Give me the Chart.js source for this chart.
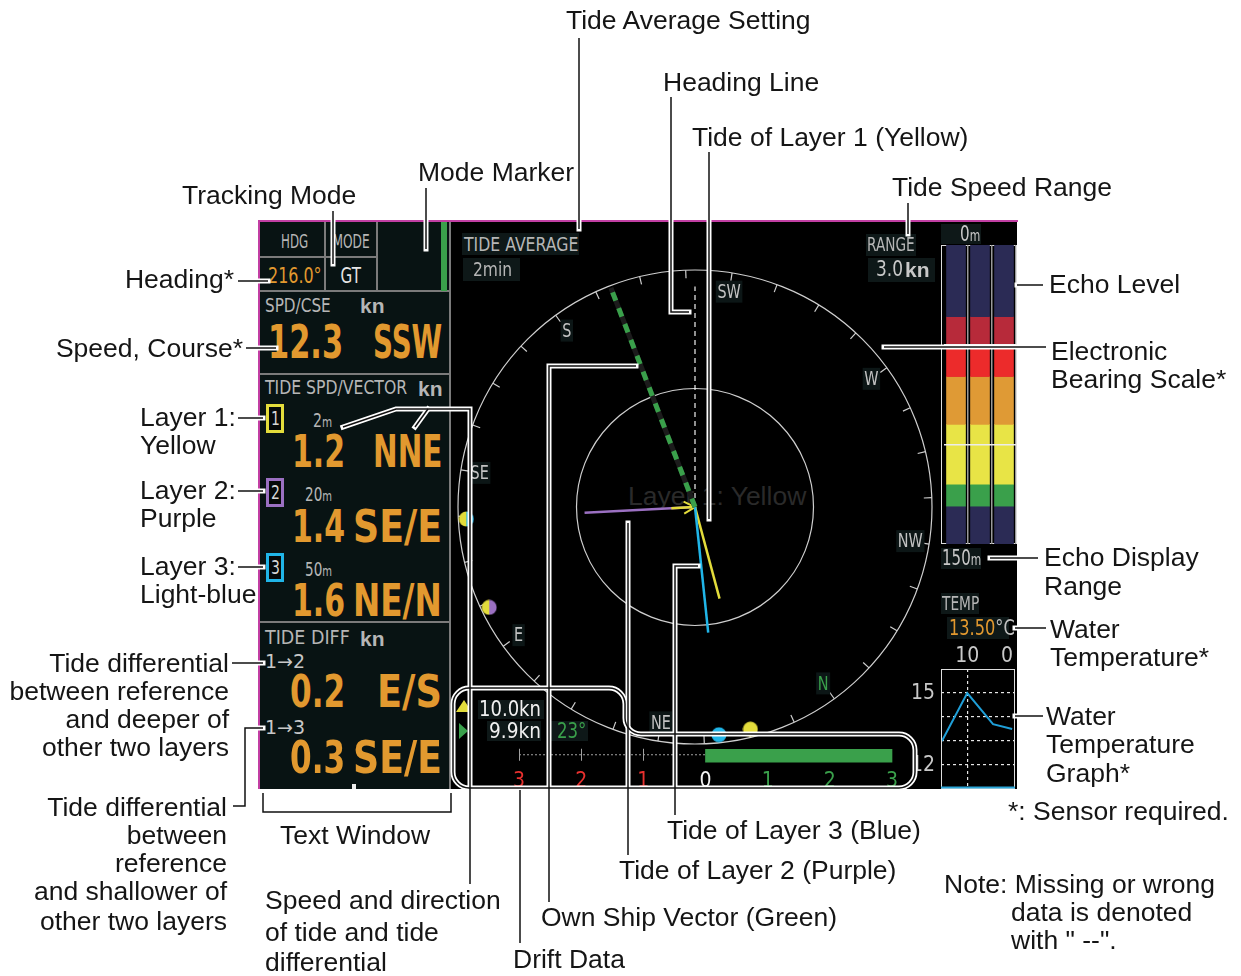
<!DOCTYPE html>
<html>
<head>
<meta charset="utf-8">
<script src="https://cdn.jsdelivr.net/npm/chart.js@4.4.0/dist/chart.umd.min.js"></script>
<style>
html, body { margin: 0; padding: 0; background: #fff; }
#stage { position: relative; width: 1241px; height: 976px; overflow: hidden; font-family: "Liberation Sans", Arial, sans-serif; }
.abs { position: absolute; }
.lcd { position: absolute; white-space: nowrap; line-height: 1; font-family: "Liberation Sans Narrow", "DejaVu Sans Condensed", "Arial Narrow", sans-serif; }
.note { position: absolute; font-size: 26.5px; line-height: 30px; white-space: nowrap; color: #151515; }
canvas { position: absolute; }
</style>
</head>
<body>
<div id="stage"></div>
<script>
const heading = 216.0;
const trackingMode = 'GT';
const ownSpeed = 12.3;
const ownCourseName = 'SSW';
const ownVectorBearing = 195;
const tideAverage = '2min';
const tideRange = 3.0;

const layerIds = ['1', '2', '3'];
const layerDepths = ['2', '20', '50'];
const layerSpeeds = [1.2, 1.4, 1.6];
const layerDirNames = ['NNE', 'SE/E', 'NE/N'];
const layerBearings = [21, 123, 30];
const layerColors = ['#e3dc3b', '#9b70c2', '#20b5e8'];

const diffLabels = ['1→2', '1→3'];
const diffSpeeds = [0.2, 0.3];
const diffDirNames = ['E/S', 'SE/E'];

const compassNames = ['N', 'NE', 'E', 'SE', 'S', 'SW', 'W', 'NW'];
const compassBearings = [0, 45, 90, 135, 180, 225, 270, 315];
const compassTickStep = 11.25;

const markerBearings = [123, 100, 30, 22];
const markerLeft = ['#e3dc3b', '#e3dc3b', '#20b5e8', '#e3dc3b'];
const markerRight = ['#20b5e8', '#9b70c2', '#20b5e8', '#e3dc3b'];

const echoColumns = ['1', '2', '3'];
const echoBandDepth = [36, 14, 16, 24, 30, 11, 19];
const echoBandColors = ['#2b2b55', '#b72a3a', '#ec2b2b', '#df9a35', '#e8e446', '#3aa04b', '#2b2b55'];
const echoGrid = [50, 100];
const echoRangeLabels = ['0m', '150m'];

const waterTemp = '13.50';
const tempMinutes = [15.3, 10, 4.6, 0.6];
const tempValues = [13.0, 15.0, 13.7, 13.5];
const tempXTicks = [10, 0];
const tempYTicks = [15, 12];
const tempGridX = [10];
const tempGridY = [12, 13, 14, 15];

const driftSpeeds = ['10.0', '9.9'];
const driftAngle = '23°';
const driftValue = 3;
const driftTicks = [-3, -2, -1, 0, 1, 2, 3];

// ---- callouts ----
const notes = [
  ['Tide Average Setting', 566, 20], ['Heading Line', 663, 82], ['Tide of Layer 1 (Yellow)', 692, 137],
  ['Mode Marker', 418, 172], ['Tide Speed Range', 892, 187], ['Tracking Mode', 182, 195],
  ['Heading*', 234, 279, 'r'], ['Echo Level', 1049, 284], ['Speed, Course*', 243, 348, 'r'],
  ['Electronic', 1051, 351], ['Bearing Scale*', 1051, 379],
  ['Layer 1:', 140, 417], ['Yellow', 140, 445], ['Layer 2:', 140, 490], ['Purple', 140, 518],
  ['Layer 3:', 140, 566], ['Light-blue', 140, 594],
  ['Echo Display', 1044, 557], ['Range', 1044, 586], ['Water', 1050, 629], ['Temperature*', 1050, 657],
  ['Tide differential', 229, 663, 'r'], ['between reference', 229, 691, 'r'], ['and deeper of', 229, 719, 'r'], ['other two layers', 229, 747, 'r'],
  ['Water', 1046, 716], ['Temperature', 1046, 744], ['Graph*', 1046, 773],
  ['*: Sensor required.', 1008, 811],
  ['Tide differential', 227, 807, 'r'], ['between', 227, 835, 'r'], ['reference', 227, 863, 'r'], ['and shallower of', 227, 891, 'r'], ['other two layers', 227, 921, 'r'],
  ['Text Window', 280, 835], ['Tide of Layer 3 (Blue)', 667, 830], ['Tide of Layer 2 (Purple)', 619, 870],
  ['Note: Missing or wrong', 944, 884], ['data is denoted', 1011, 912], ['with " --".', 1011, 940],
  ['Speed and direction', 265, 900], ['of tide and tide', 265, 932], ['differential', 265, 962],
  ['Own Ship Vector (Green)', 541, 917], ['Drift Data', 513, 959]
];
const leaders = [
  [[579, 38], [579, 229]], [[671, 97], [671, 312], [689, 312]], [[709, 152], [709, 519]],
  [[426, 188], [426, 249]], [[908, 203], [908, 234]], [[333, 211], [333, 264]],
  [[238, 281], [268, 281]], [[1017, 285], [1043, 285]], [[246, 348], [276, 348]],
  [[884, 347], [1046, 347]], [[238, 418], [263, 418]], [[238, 491], [263, 491]], [[238, 567], [263, 567]],
  [[990, 558], [1038, 558]], [[1015, 628], [1046, 628]], [[232, 663], [263, 663]],
  [[233, 806], [245, 806], [245, 728], [263, 728]], [[1015, 716], [1043, 716]],
  [[263, 793], [263, 812], [451, 812], [451, 793]],
  [[470, 884], [470, 409], [396, 409], [343, 427]], [[428, 409], [415, 427]],
  [[549, 902], [549, 366], [636, 366]], [[520, 943], [520, 790]],
  [[628, 855], [628, 523]], [[675, 815], [675, 566], [698, 566]]
];
const driftBox = [[453, 688], [625, 688], [625, 734], [915, 734], [915, 788], [453, 788]];

const LCD = '"Liberation Sans Narrow", "DejaVu Sans Condensed", "Arial Narrow", sans-serif';
const ORANGE = '#e2992f';
const GRAY = '#b6b6b6';
Chart.defaults.font.family = LCD;

const stage = document.getElementById('stage');

const rect = (x, y, w, h, bg, extra = {}) => {
  const d = document.createElement('div');
  d.className = 'abs';
  Object.assign(d.style, {left: x + 'px', top: y + 'px', width: w + 'px', height: h + 'px', background: bg}, extra);
  stage.appendChild(d);
  return d;
};

// LCD text squeezed to the width it has on the display
// weight: 'kn' = bold sans unit, 'b' = bold lcd
const lcd = (html, x, yc, size, color, align, width, weight) => {
  const d = document.createElement('div');
  d.className = 'lcd';
  d.innerHTML = html;
  d.style.fontSize = size + 'px';
  d.style.color = color;
  d.style.top = (yc - 0.49 * size) + 'px';
  if (weight === 'kn') d.style.fontFamily = '"Liberation Sans", Arial, sans-serif';
  if (weight) d.style.fontWeight = 'bold';
  stage.appendChild(d);
  const s = width ? width / d.offsetWidth : 1;
  if (align === 'r') {
    d.style.right = (1241 - x) + 'px';
    d.style.transformOrigin = 'right center';
  } else if (align === 'c') {
    d.style.left = (x - d.offsetWidth / 2) + 'px';
    d.style.transformOrigin = 'center center';
  } else {
    d.style.left = x + 'px';
    d.style.transformOrigin = 'left center';
  }
  d.style.transform = `scaleX(${s})`;
  return d;
};

const addCanvas = (x, y, w, h) => {
  const c = document.createElement('canvas');
  c.width = w; c.height = h;
  c.style.left = x + 'px'; c.style.top = y + 'px';
  stage.appendChild(c);
  return c;
};

// ---- display background ----
rect(258, 221, 192, 568, '#081313');
rect(450, 221, 567, 568, '#000');
rect(258, 220, 760, 2, '#c23fa3');
rect(258, 220, 2, 569, '#c23fa3');
const LINE = '#7b7b7b';
rect(260, 256, 117, 2, LINE); rect(324, 222, 2, 69, LINE); rect(376, 222, 2, 69, LINE);
rect(260, 290, 190, 2, LINE); rect(260, 373, 190, 2, LINE); rect(260, 621, 190, 2, LINE);
rect(449, 222, 2, 567, LINE);
rect(441, 222, 6, 69, '#3aa04b');
rect(352, 784, 4, 5, '#eee');

// ghost text left in the original artwork
const ghost = document.createElement('div');
ghost.className = 'note';
ghost.textContent = 'Layer 1: Yellow';
ghost.style.left = '628px'; ghost.style.top = '481px'; ghost.style.color = '#2a2a2a';
stage.appendChild(ghost);

// ---- compass / tide vectors ----
const cBox = {left: 450, top: 222, w: 488, h: 568, cx: 695, cy: 507, r: 237};
const kPx = cBox.r / tideRange;
const rad = b => (b - heading) * Math.PI / 180;
const vec = (s, b) => ({x: s * Math.sin(rad(b)), y: s * Math.cos(rad(b))});
const origin = {x: 0, y: 0};

const halfDot = (l, r) => {
  const c = document.createElement('canvas');
  c.width = 16; c.height = 16;
  const g = c.getContext('2d');
  g.fillStyle = l; g.beginPath(); g.moveTo(8, 8); g.arc(8, 8, 7.5, Math.PI / 2, Math.PI * 1.5); g.fill();
  g.fillStyle = r; g.beginPath(); g.moveTo(8, 8); g.arc(8, 8, 7.5, -Math.PI / 2, Math.PI / 2); g.fill();
  return c;
};

const compassPlugin = {
  id: 'compass',
  beforeDatasetsDraw(chart) {
    const {ctx, scales: {x, y}} = chart;
    const cx = x.getPixelForValue(0), cy = y.getPixelForValue(0);
    const R = x.getPixelForValue(tideRange) - cx;
    ctx.save();
    ctx.strokeStyle = '#cfcfcf';
    ctx.lineWidth = 1.2;
    [R, R / 2].forEach(r => { ctx.beginPath(); ctx.arc(cx, cy, r, 0, Math.PI * 2); ctx.stroke(); });
    for (let b = 0; b < 360; b += compassTickStep) {
      const a = rad(b);
      ctx.beginPath();
      ctx.moveTo(cx + R * Math.sin(a), cy - R * Math.cos(a));
      ctx.lineTo(cx + (R - 8) * Math.sin(a), cy - (R - 8) * Math.cos(a));
      ctx.stroke();
    }
    ctx.font = '20px ' + LCD;
    ctx.textAlign = 'center';
    ctx.textBaseline = 'middle';
    compassNames.forEach((n, i) => {
      const a = rad(compassBearings[i]);
      const px = cx + R * 0.92 * Math.sin(a), py = cy - R * 0.92 * Math.cos(a);
      ctx.save();
      ctx.translate(px, py);
      ctx.scale(0.8, 1);
      const w = ctx.measureText(n).width;
      ctx.fillStyle = '#0c1616';
      ctx.fillRect(-w / 2 - 2, -11, w + 4, 22);
      ctx.fillStyle = n === 'N' ? '#3aa04b' : '#c2c2c2';
      ctx.fillText(n, 0, 1);
      ctx.restore();
    });
    ctx.restore();
  }
};

const arrowDir = vec(1, layerBearings[1]);
const wing = ang => {
  const ux = -arrowDir.x, uy = -arrowDir.y;
  const c = Math.cos(ang), s = Math.sin(ang);
  return {x: -0.16 * (ux * c - uy * s), y: -0.16 * (ux * s + uy * c)};
};
const ownLen = Math.min(ownSpeed, tideRange) * 0.99;
const line = (data, color, width, dash) => ({data, showLine: true, borderColor: color, borderWidth: width, borderDash: dash || [], pointRadius: 0, borderCapStyle: 'butt'});

// Chart.js paints the first dataset on top, so the list runs top to bottom
const compassCanvas = addCanvas(cBox.left, cBox.top, cBox.w, cBox.h);
new Chart(compassCanvas, {
  type: 'scatter',
  data: {
    datasets: [
      {data: markerBearings.map(b => vec(tideRange * 0.966, b)), pointStyle: markerBearings.map((b, i) => halfDot(markerLeft[i], markerRight[i])), pointRadius: 8},
      line([origin, vec(ownLen, ownVectorBearing)], '#3aa04b', 5, [9, 8]),
      line([origin, vec(ownLen, ownVectorBearing)], '#1c1c1c', 5),
      line([origin, {x: 0, y: tideRange * 0.93}], '#f0f0f0', 1.2, [5, 4]),
      line([origin, vec(layerSpeeds[2], layerBearings[2])], layerColors[2], 2.5),
      line([origin, vec(layerSpeeds[0], layerBearings[0])], layerColors[0], 2.5),
      line([wing(0.5), origin, wing(-0.5)], layerColors[0], 2),
      line([vec(0.3, layerBearings[1]), origin], layerColors[0], 2.5),
      line([origin, vec(layerSpeeds[1], layerBearings[1])], layerColors[1], 2.5)
    ]
  },
  options: {
    responsive: false, animation: false, events: [],
    layout: {padding: 0, autoPadding: false},
    plugins: {legend: {display: false}, tooltip: {enabled: false}},
    scales: {
      x: {type: 'linear', display: false, min: (cBox.left - cBox.cx) / kPx, max: (cBox.left + cBox.w - cBox.cx) / kPx},
      y: {type: 'linear', display: false, min: (cBox.cy - cBox.top - cBox.h) / kPx, max: (cBox.cy - cBox.top) / kPx}
    }
  },
  plugins: [compassPlugin]
});

// ---- echo level ----
rect(941, 245, 74, 297, 'transparent', {border: '1px solid #dcdcdc'});
const echoCanvas = addCanvas(944, 245, 72, 299);
new Chart(echoCanvas, {
  type: 'bar',
  data: {
    labels: echoColumns,
    datasets: echoBandDepth.map((d, i) => ({data: echoColumns.map(() => d), backgroundColor: echoBandColors[i], barThickness: 19, borderWidth: 0}))
  },
  options: {
    responsive: false, animation: false, events: [],
    layout: {padding: 0},
    plugins: {legend: {display: false}, tooltip: {enabled: false}},
    scales: {
      x: {stacked: true, ticks: {display: false}, border: {display: false},
          grid: {offset: true, drawTicks: false, lineWidth: 1.5, z: 1, color: c => (c.index === 0 || c.index === echoColumns.length) ? 'rgba(0,0,0,0)' : '#9a9a9a'}},
      y: {stacked: true, reverse: true, min: 0, max: 150, ticks: {display: false}, border: {display: false},
          afterBuildTicks: s => { s.ticks = echoGrid.map(v => ({value: v})); },
          grid: {drawTicks: false, lineWidth: 1.5, color: '#ececec', z: 1}}
    }
  }
});

// ---- water temperature graph ----
const tempPlugin = {
  id: 'tempFrame',
  afterDraw(chart) {
    const {ctx, chartArea: a, scales: {x, y}} = chart;
    ctx.save();
    ctx.strokeStyle = '#dedede'; ctx.lineWidth = 1;
    ctx.strokeRect(a.left + 0.5, a.top + 0.5, a.width - 1, a.height - 1);
    ctx.strokeStyle = '#2aa6d8'; ctx.lineWidth = 2;
    ctx.beginPath(); ctx.moveTo(a.left, a.bottom - 1.5); ctx.lineTo(a.right, a.bottom - 1.5); ctx.stroke();
    ctx.font = '21px ' + LCD;
    ctx.fillStyle = '#c8c8c8';
    ctx.textBaseline = 'middle';
    ctx.textAlign = 'right';
    tempYTicks.forEach(v => ctx.fillText(String(v), a.left - 6, y.getPixelForValue(v) + 1));
    ctx.textAlign = 'center';
    tempXTicks.forEach(v => ctx.fillText(String(v), Math.min(x.getPixelForValue(v), a.right - 8), a.top - 12));
    ctx.restore();
  }
};
const tempCanvas = addCanvas(905, 645, 111, 144);
new Chart(tempCanvas, {
  type: 'line',
  data: {datasets: [{data: tempMinutes.map((m, i) => ({x: m, y: tempValues[i]})), borderColor: '#1f9fd8', borderWidth: 2, pointRadius: 0, tension: 0}]},
  options: {
    responsive: false, animation: false, events: [],
    layout: {padding: {left: 36, top: 24, right: 1, bottom: 0}, autoPadding: false},
    plugins: {legend: {display: false}, tooltip: {enabled: false}},
    scales: {
      x: {type: 'linear', reverse: true, min: 0, max: 15.5, ticks: {display: false},
          afterBuildTicks: s => { s.ticks = tempGridX.map(v => ({value: v})); },
          grid: {drawTicks: false, color: '#e6e6e6', lineWidth: 1.2}, border: {display: false, dash: [3, 3]}},
      y: {type: 'linear', min: 11, max: 16, ticks: {display: false},
          afterBuildTicks: s => { s.ticks = tempGridY.map(v => ({value: v})); },
          grid: {drawTicks: false, color: '#e6e6e6', lineWidth: 1.2}, border: {display: false, dash: [3, 3]}}
    }
  },
  plugins: [tempPlugin]
});

// ---- drift data ----
const driftPlugin = {
  id: 'driftScale',
  beforeDatasetsDraw(chart) {
    const {ctx, chartArea: a, scales: {x}} = chart;
    const yc = (a.top + a.bottom) / 2 - 1;
    ctx.save();
    ctx.strokeStyle = '#a0a0a0'; ctx.lineWidth = 1;
    ctx.setLineDash([2, 2]);
    ctx.beginPath(); ctx.moveTo(x.getPixelForValue(driftTicks[0]), yc); ctx.lineTo(x.getPixelForValue(0), yc); ctx.stroke();
    ctx.setLineDash([]);
    driftTicks.filter(v => v < 0).forEach(v => {
      const px = Math.round(x.getPixelForValue(v)) + 0.5;
      ctx.beginPath(); ctx.moveTo(px, yc - 6); ctx.lineTo(px, yc + 6); ctx.stroke();
    });
    ctx.restore();
  }
};
const driftCanvas = addCanvas(460, 738, 452, 50);
new Chart(driftCanvas, {
  type: 'bar',
  data: {labels: ['drift'], datasets: [{data: [driftValue], backgroundColor: '#3aa04b', barThickness: 13, borderWidth: 0}]},
  options: {
    indexAxis: 'y', responsive: false, animation: false, events: [],
    layout: {padding: {top: 7, left: 0, right: 0, bottom: 0}},
    plugins: {legend: {display: false}, tooltip: {enabled: false}},
    scales: {
      x: {type: 'linear', min: -3 - 59 / 62.17, max: 3 + 20 / 62.17,
          afterBuildTicks: s => { s.ticks = driftTicks.map(v => ({value: v})); },
          grid: {display: false, drawTicks: false}, border: {display: false},
          ticks: {padding: 2, font: {size: 21, family: LCD}, callback: v => Math.abs(v),
                  color: c => c.tick.value < 0 ? '#e8302e' : (c.tick.value === 0 ? '#f2f2f2' : '#3aa04b')}},
      y: {display: false}
    }
  },
  plugins: [driftPlugin]
});

// ---- text window ----
lcd('HDG', 294, 241, 19, GRAY, 'c', 27);
lcd('MODE', 351, 241, 19, GRAY, 'c', 37);
lcd(heading.toFixed(1) + '°', 268, 276, 21, ORANGE, 'l', 54);
lcd(trackingMode, 350, 276, 21, '#e6e6e6', 'c', 20);
lcd('SPD/CSE', 265, 305, 19, GRAY, 'l', 66);
lcd('kn', 360, 305, 21, GRAY, 'l', 0, 'kn');
lcd(ownSpeed.toFixed(1), 268, 342, 46, ORANGE, 'l', 75, 'b');
lcd(ownCourseName, 442, 342, 46, ORANGE, 'r', 69, 'b');
lcd('TIDE SPD/VECTOR', 265, 387, 19, GRAY, 'l', 142);
lcd('kn', 418, 388, 21, GRAY, 'l', 0, 'kn');
const boxY = [404, 478, 553];
const depthX = [313, 305, 305];
const rowY = [452, 527, 601];
const dirW = [69, 89, 89];
layerIds.forEach((id, i) => {
  rect(266, boxY[i], 12, 23, '#050909', {border: '3px solid ' + layerColors[i]});
  lcd(id, 275, boxY[i] + 14.5, 19, '#d6d6d6', 'c', 9);
  lcd(layerDepths[i] + '<span style="font-size:14px">m</span>', depthX[i], boxY[i] + 16, 19, GRAY, 'l', layerDepths[i].length > 1 ? 27 : 19);
  lcd(layerSpeeds[i].toFixed(1), 292, rowY[i], 44, ORANGE, 'l', 53, 'b');
  lcd(layerDirNames[i], 442, rowY[i], 44, ORANGE, 'r', dirW[i], 'b');
});
lcd('TIDE DIFF', 265, 637, 19, GRAY, 'l', 85);
lcd('kn', 360, 638, 21, GRAY, 'l', 0, 'kn');
const diffLabelY = [661, 727];
const diffRowY = [692, 758];
const diffW = [65, 89];
diffLabels.forEach((l, i) => {
  lcd(l, 265, diffLabelY[i], 19, '#c8c8c8', 'l', 40);
  lcd(diffSpeeds[i].toFixed(1), 290, diffRowY[i], 44, ORANGE, 'l', 55, 'b');
  lcd(diffDirNames[i], 442, diffRowY[i], 44, ORANGE, 'r', diffW[i], 'b');
});

// ---- radar area labels ----
const BOX = '#0e1818';
rect(462, 233, 117, 22, BOX); lcd('TIDE AVERAGE', 464, 244, 19, GRAY, 'l', 114);
rect(463, 258, 57, 23, BOX); lcd(tideAverage, 473, 269, 19, GRAY, 'l', 39);
rect(866, 234, 50, 22, BOX); lcd('RANGE', 867, 244, 19, GRAY, 'l', 48);
rect(868, 258, 67, 24, BOX); lcd(tideRange.toFixed(1), 876, 269, 21, '#c8c8c8', 'l', 27); lcd('kn', 905, 269, 21, '#c8c8c8', 'l', 0, 'kn');

// ---- right column labels ----
rect(941, 224, 40, 20, BOX); lcd(echoRangeLabels[0].replace('m', '<span style="font-size:15px">m</span>'), 960, 234, 21, '#c8c8c8', 'l', 20);
rect(941, 548, 40, 21, BOX); lcd(echoRangeLabels[1].replace('m', '<span style="font-size:15px">m</span>'), 942, 558, 21, '#c8c8c8', 'l', 39);
rect(941, 593, 38, 21, BOX); lcd('TEMP', 942, 603, 19, GRAY, 'l', 37);
rect(947, 617, 62, 22, BOX); lcd(waterTemp + '<span style="color:#c0c0c0">°C</span>', 949, 628, 21, ORANGE, 'l', 66);

// ---- drift texts ----
rect(456, 700, 0, 0, 'transparent', {borderLeft: '8px solid transparent', borderRight: '8px solid transparent', borderBottom: '12px solid #e3dc3b'});
rect(459, 723, 0, 0, 'transparent', {borderTop: '8px solid transparent', borderBottom: '8px solid transparent', borderLeft: '9px solid #3aa04b'});
rect(478, 700, 66, 19, BOX); lcd(driftSpeeds[0] + 'kn', 479, 709, 21, '#f0f0f0', 'l', 62);
rect(487, 721, 54, 20, BOX); lcd(driftSpeeds[1] + 'kn', 489, 731, 21, '#f0f0f0', 'l', 52);
rect(550, 721, 38, 20, BOX); lcd(driftAngle, 557, 731, 21, '#3aa04b', 'l', 29);

// ---- leader lines overlay ----
const leaderPlugin = {
  id: 'leaders',
  afterDraw(chart) {
    const {ctx, scales: {x, y}} = chart;
    const P = p => [x.getPixelForValue(p[0]), y.getPixelForValue(p[1])];
    const trace = pts => {
      ctx.beginPath();
      pts.forEach((p, i) => { const [a, b] = P(p); if (i) ctx.lineTo(a, b); else ctx.moveTo(a, b); });
    };
    const traceRound = (pts, r) => {
      ctx.beginPath();
      const n = pts.length;
      const m = P(pts[0]), q = P(pts[1]);
      ctx.moveTo((m[0] + q[0]) / 2, (m[1] + q[1]) / 2);
      for (let i = 1; i <= n; i++) {
        const c = P(pts[i % n]), d = P(pts[(i + 1) % n]);
        ctx.arcTo(c[0], c[1], d[0], d[1], r);
      }
      ctx.closePath();
    };
    ctx.save();
    [{c: '#ffffff', w: 5, cap: 'square'}, {c: '#111111', w: 1.5, cap: 'butt'}].forEach(pass => {
      ctx.strokeStyle = pass.c; ctx.lineWidth = pass.w; ctx.lineCap = pass.cap; ctx.lineJoin = 'miter';
      leaders.forEach(l => { trace(l); ctx.stroke(); });
      traceRound(driftBox, 16); ctx.stroke();
    });
    ctx.restore();
  }
};
const overlayCanvas = addCanvas(0, 0, 1241, 976);
new Chart(overlayCanvas, {
  type: 'scatter',
  data: {datasets: []},
  options: {
    responsive: false, animation: false, events: [],
    layout: {padding: 0, autoPadding: false},
    plugins: {legend: {display: false}, tooltip: {enabled: false}},
    scales: {
      x: {type: 'linear', display: false, min: 0, max: 1241},
      y: {type: 'linear', display: false, min: 0, max: 976, reverse: true}
    }
  },
  plugins: [leaderPlugin]
});

// ---- callout texts ----
notes.forEach(([t, x, yc, align]) => {
  const d = document.createElement('div');
  d.className = 'note';
  d.textContent = t;
  d.style.top = (yc - 15) + 'px';
  if (align === 'r') d.style.right = (1241 - x) + 'px'; else d.style.left = x + 'px';
  stage.appendChild(d);
});
</script>
</body>
</html>
